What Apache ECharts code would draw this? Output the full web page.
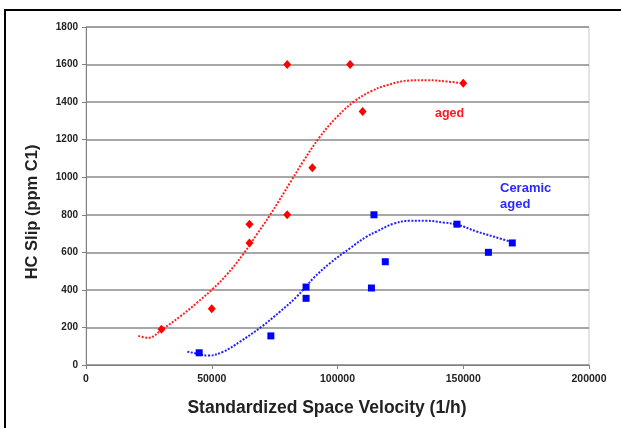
<!DOCTYPE html>
<html>
<head>
<meta charset="utf-8">
<script src="https://cdn.jsdelivr.net/npm/echarts@6/dist/echarts.min.js"></script>
<style>
html,body{margin:0;padding:0;background:#fff;}
#chart{width:621px;height:428px;}
</style>
</head>
<body>
<div id="chart"></div>
<script>
// Measured data (aged)
var agedX = [30000, 50000, 65000, 65000, 80000, 80000, 90000, 105000, 110000, 150000];
var agedY = [190, 300, 750, 650, 1600, 800, 1050, 1600, 1350, 1500];
// Measured data (Ceramic aged)
var ceramicX = [45000, 73500, 87500, 87500, 114500, 113500, 119000, 147500, 160000, 169500];
var ceramicY = [65, 155, 415, 355, 800, 410, 550, 750, 600, 650];
// Trendline points
var agedTrendX = [20800, 24800, 30300, 37400, 44000, 50000, 55900, 62500, 67900, 73000, 81800, 86400, 93000, 99700, 106300, 112900, 119600, 128800, 135500, 143400, 150000];
var agedTrendY = [155, 145, 190, 258, 330, 400, 480, 590, 695, 795, 985, 1085, 1215, 1320, 1400, 1455, 1490, 1515, 1517, 1510, 1500];
var ceramicTrendX = [40300, 44700, 48600, 54600, 61200, 69800, 77100, 83800, 90400, 97000, 105000, 111600, 115600, 122200, 128800, 135500, 142100, 148000, 155300, 162000, 169500];
var ceramicTrendY = [71, 59, 50, 71, 124, 204, 284, 364, 462, 542, 622, 684, 711, 752, 768, 768, 759, 746, 711, 684, 654];
// Axis
var xTicks = [0, 50000, 100000, 150000, 200000];
var yTicks = [0, 200, 400, 600, 800, 1000, 1200, 1400, 1600, 1800];
var xTitle = 'Standardized Space Velocity (1/h)';
var yTitle = 'HC Slip (ppm C1)';
var agedLabel = 'aged';
var ceramicLabel = 'Ceramic\naged';

function zip(a, b) { return a.map(function (v, i) { return [v, b[i]]; }); }

var FONT = '"Liberation Sans", Arial, sans-serif';
var chart = echarts.init(document.getElementById('chart'), null, {renderer: 'canvas'});
chart.setOption({
  animation: false,
  backgroundColor: '#ffffff',
  grid: {left: 86, right: 32, top: 27, bottom: 63, show: true, borderColor: '#c8c8c8', borderWidth: 1},
  xAxis: {
    type: 'value', min: xTicks[0], max: xTicks[xTicks.length - 1], interval: 50000,
    axisLine: {show: true, lineStyle: {color: '#808080', width: 1}},
    axisTick: {show: true, inside: false, length: 4, lineStyle: {color: '#808080'}},
    axisLabel: {fontFamily: FONT, fontWeight: 'bold', fontSize: 10.5, color: '#222', margin: 9,
      formatter: function (v) { return String(v); }},
    splitLine: {show: false}
  },
  yAxis: {
    type: 'value', min: yTicks[0], max: yTicks[yTicks.length - 1], interval: 200,
    axisLine: {show: true, lineStyle: {color: '#808080', width: 1}},
    axisTick: {show: true, inside: false, length: 4, lineStyle: {color: '#808080'}},
    axisLabel: {fontFamily: FONT, fontWeight: 'bold', fontSize: 10, color: '#222', margin: 8,
      formatter: function (v) { return String(v); }},
    splitLine: {show: true, lineStyle: {color: '#8a8a8a', width: 1.6}}
  },
  series: [
    {type: 'line', data: zip(agedTrendX, agedTrendY), smooth: 0.4, showSymbol: false, symbol: 'none',
     lineStyle: {color: '#ff2020', width: 2, type: [2, 1.5]}, z: 2},
    {type: 'line', data: zip(ceramicTrendX, ceramicTrendY), smooth: 0.4, showSymbol: false, symbol: 'none',
     lineStyle: {color: '#2020ff', width: 2, type: [2, 1.5]}, z: 2},
    {type: 'scatter', data: zip(agedX, agedY), symbol: 'diamond', symbolSize: [8, 9],
     itemStyle: {color: '#ff0000', opacity: 1}, z: 3},
    {type: 'scatter', data: zip(ceramicX, ceramicY), symbol: 'rect', symbolSize: 7,
     itemStyle: {color: '#0000ff', opacity: 1}, z: 3}
  ],
  graphic: [
    {type: 'rect', shape: {x: 5, y: 10, width: 700, height: 500}, style: {fill: 'none', stroke: '#000', lineWidth: 2}, silent: true},
    {type: 'text', x: 327, y: 408, style: {text: xTitle, fill: '#222', font: 'bold 17.5px ' + FONT, align: 'center', verticalAlign: 'middle'}},
    {type: 'text', x: 32, y: 212, rotation: Math.PI / 2, style: {text: yTitle, fill: '#222', font: 'bold 16.5px ' + FONT, align: 'center', verticalAlign: 'middle'}},
    {type: 'text', left: 435, top: 107, style: {text: agedLabel, fill: '#ff1a1a', font: 'bold 12.5px ' + FONT}},
    {type: 'text', left: 500, top: 180, style: {text: ceramicLabel, fill: '#2a2aff', font: 'bold 13px ' + FONT, lineHeight: 16}}
  ]
});
</script>
</body>
</html>
